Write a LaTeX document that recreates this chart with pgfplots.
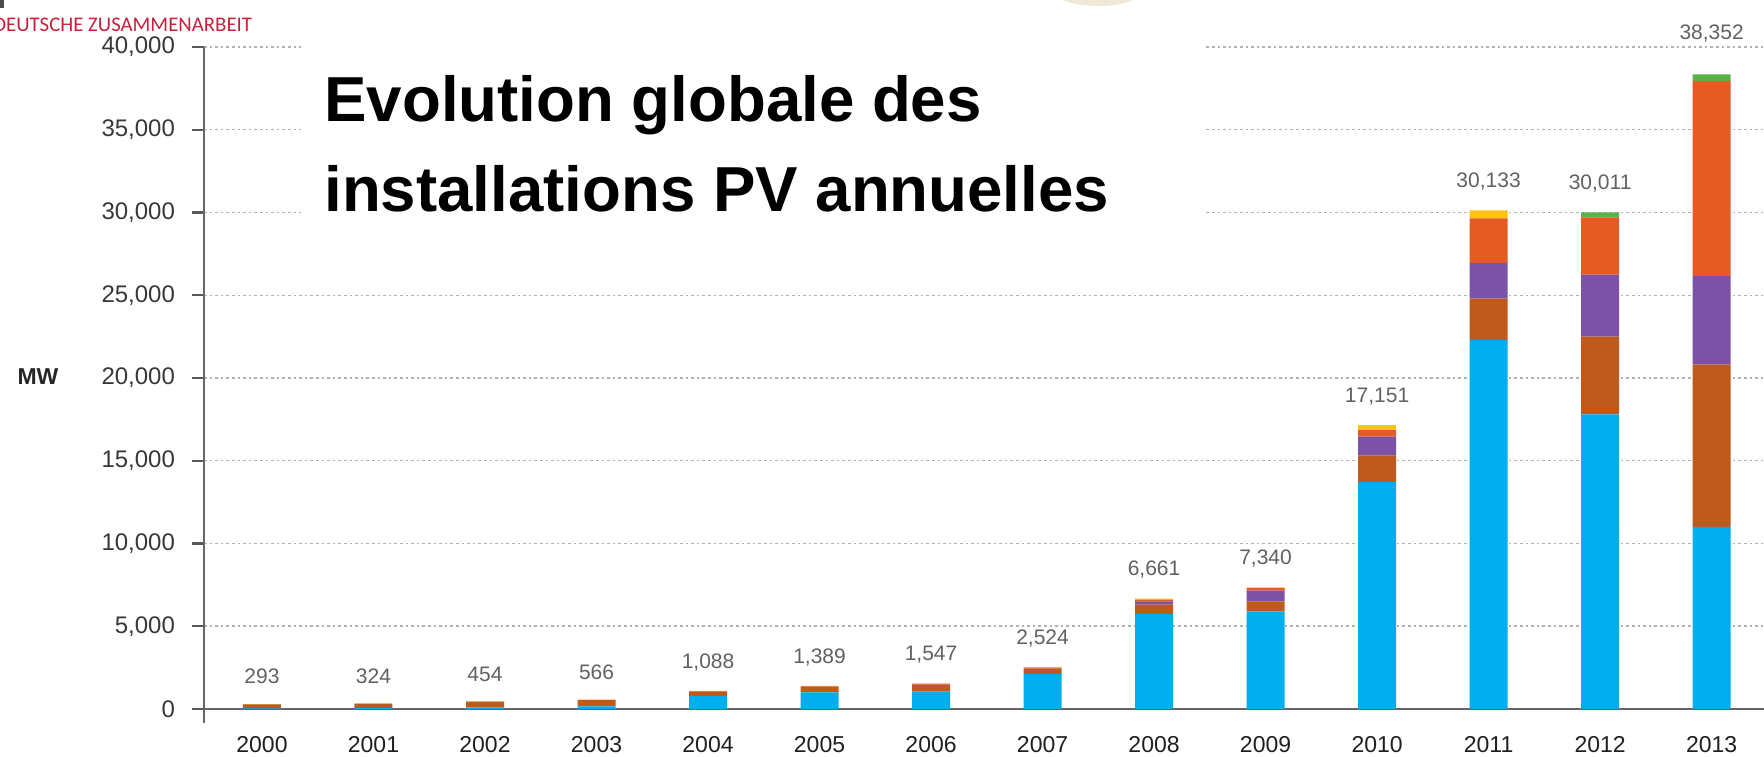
\documentclass[border=0pt]{standalone}
\usepackage{pgfplots}
\pgfplotsset{compat=1.18}
\usepackage{pgfplotstable}
\usepackage{fontspec}
\setmainfont{Liberation Sans}
\newfontfamily\carlito{Carlito}
\definecolor{cblue}{HTML}{00AEEF}
\definecolor{cbrown}{HTML}{BF5A1C}
\definecolor{cpurple}{HTML}{7B52A6}
\definecolor{corange}{HTML}{E65A24}
\definecolor{cyellow}{HTML}{FFC20E}
\definecolor{cgreen}{HTML}{5BB14A}
\definecolor{cred}{HTML}{C8203C}
\definecolor{cbeige}{HTML}{EEE9D6}

\pgfplotstableread{
x year blue brown purple orange yellow green total label off
0 2000 40 230 0 13 10 0 293 293 6.5
1 2001 60 250 0 8 6 0 324 324 6.5
2 2002 100 330 0 14 10 0 454 454 6.5
3 2003 150 380 0 20 16 0 566 566 6.5
4 2004 780 260 0 30 18 0 1088 1,088 6.5
5 2005 1000 330 0 40 19 0 1389 1,389 6.5
6 2006 1050 430 0 40 27 0 1547 1,547 6.5
7 2007 2100 350 0 50 24 0 2524 2,524 6.5
8 2008 5750 550 200 100 61 0 6661 6,661 6.5
9 2009 5900 600 650 150 40 0 7340 7,340 6.5
10 2010 13700 1600 1150 400 301 0 17151 17,151 6.5
11 2011 22300 2500 2150 2700 483 0 30133 30,133 6.5
12 2012 17800 4700 3750 3450 0 311 30011 30,011 6.5
13 2013 11000 9800 5350 11800 0 402 38352 38,352 12.5
}\data

\pgfplotsset{
  common/.style={
    at={(102pt,16.5pt)}, anchor=south west,
    scale only axis, width=780pt, height=338pt,
    xmin=-0.52, xmax=13.47, ymin=-850, ymax=40000,
    enlargelimits=false, clip=false,
  }
}

\begin{document}
\begin{tikzpicture}
\path[use as bounding box, clip] (0,0) rectangle (882pt,378pt);
\fill[cbeige] (549pt,381pt) ellipse (20pt and 6pt);
\begin{axis}[
  common,
  ybar stacked, bar width=19pt,
  axis line style={draw=none},
  xtick={0,...,13},
  xticklabels={2000,2001,2002,2003,2004,2005,2006,2007,2008,2009,2010,2011,2012,2013},
  xtick style={draw=none},
  xtick pos=bottom,
  ytick={0,5000,...,40000},
  ytick pos=left,
  scaled y ticks=false,
  tick align=outside,
  major tick length=6pt,
  ytick style={line width=1.1pt, color=black!65},
  ymajorgrids,
  grid style={dash pattern=on 1.3pt off 1.5pt, line width=0.7pt, color=black!30},
  yticklabel={\pgfmathprintnumber[fixed, precision=0, 1000 sep={,}, assume math mode=true]{\tick}},
  yticklabel style={font=\fontsize{12}{14}\selectfont, text=black!78, xshift=-5pt},
  xticklabel style={font=\fontsize{11.5}{13}\selectfont, text=black!88, inner sep=0pt, anchor=center, yshift=-5pt},
]
\addplot[fill=cblue, draw=none] table[x=x, y=blue]{\data};
\addplot[fill=cbrown, draw=none] table[x=x, y=brown]{\data};
\addplot[fill=cpurple, draw=none] table[x=x, y=purple]{\data};
\addplot[fill=corange, draw=none] table[x=x, y=orange]{\data};
\addplot[fill=cyellow, draw=none] table[x=x, y=yellow]{\data};
\addplot[fill=cgreen, draw=none] table[x=x, y=green]{\data};
\draw[line width=1.1pt, color=black!60] (axis cs:-0.52,-850) -- (axis cs:-0.52,40000);
\draw[line width=1.1pt, color=black!60] (axis cs:-0.52,0) -- (axis cs:13.47,0);
\end{axis}
\begin{axis}[
  common, hide axis,
]
\addplot[draw=none, mark=none,
  nodes near coords, point meta=explicit symbolic,
  visualization depends on={\thisrow{off}\as\off},
  every node near coord/.append style={font=\fontsize{10.5}{12}\selectfont, text=black!62, anchor=south, yshift=\off}]
  table[x=x, y=total, meta=label]{\data};
\end{axis}
% title box
\fill[white] (150.5pt,265.5pt) rectangle (602pt,363pt);
\node[anchor=base west, inner sep=0pt, font=\fontsize{31.8}{38}\selectfont\bfseries] at (162pt,317pt) {Evolution globale des};
\node[anchor=base west, inner sep=0pt, font=\fontsize{31.8}{38}\selectfont\bfseries] at (162pt,272pt) {installations PV annuelles};
% y unit
\node[font=\fontsize{11.5}{13}\selectfont\bfseries, text=black!85] at (19pt,189.5pt) {MW};
% header text
\node[anchor=base west, inner sep=0pt, font=\carlito\fontsize{10.4}{12}\selectfont, text=cred] at (-3.5pt,362pt) {DEUTSCHE ZUSAMMENARBEIT};
\fill[black!70] (0pt,374pt) rectangle (2pt,378pt);
\end{tikzpicture}
\end{document}
